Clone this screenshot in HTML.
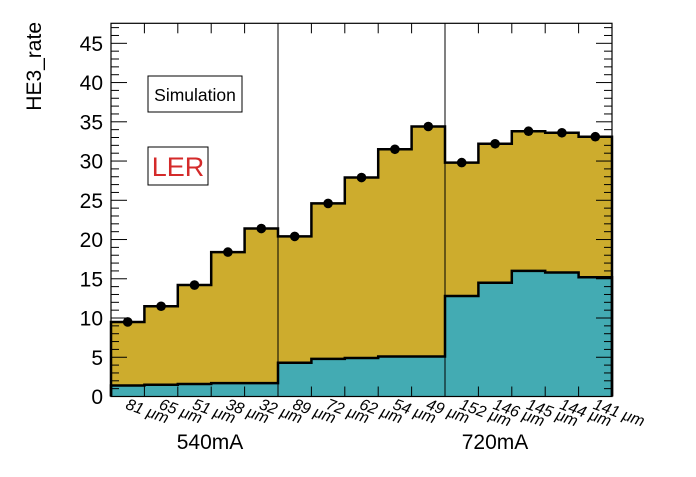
<!DOCTYPE html>
<html><head><meta charset="utf-8"><style>
body{margin:0;background:#fff}
svg text{font-family:"Liberation Sans",sans-serif}
</style></head><body>
<svg width="696" height="472" viewBox="0 0 696 472">
<g id="plot"></g>
</svg>
<script>
const categories=["81","65","51","38","32","89","72","62","54","49","152","146","145","144","141"];
const totalValues=[9.5,11.5,14.2,18.4,21.4,20.4,24.6,27.9,31.5,34.4,29.8,32.2,33.8,33.6,33.1];
const tealValues=[1.4,1.5,1.6,1.7,1.7,4.3,4.8,4.9,5.1,5.1,12.8,14.5,16.0,15.8,15.2];
const yTicks=[0,5,10,15,20,25,30,35,40,45];
const groupLabels=["540mA","720mA"];
const NS="http://www.w3.org/2000/svg";
const L=111,R=612,T=23.3,B=396.5,YMAX=47.55;
const n=categories.length,bw=(R-L)/n;
const X=i=>L+i*bw;
const Y=v=>B-(v/YMAX)*(B-T);
const g=document.getElementById('plot');
function mk(tag,attrs,parent){const e=document.createElementNS(NS,tag);for(const k in attrs)e.setAttribute(k,attrs[k]);(parent||g).appendChild(e);return e;}
function stepPath(vals){let d=`M${X(0)},${B}`;vals.forEach((v,i)=>{d+=` L${X(i)},${Y(v)} L${X(i+1)},${Y(v)}`;});d+=` L${X(n)},${B}`;return d;}
let e;
e=mk('path',{d:stepPath(totalValues)+' Z',fill:'#cdac2d',stroke:'none'});


e=mk('path',{d:stepPath(tealValues)+' Z',fill:'#43abb3',stroke:'none'});


e=mk('path',{d:stepPath(totalValues),fill:'none',stroke:'#000','stroke-width':2.5});


e=mk('path',{d:stepPath(tealValues),fill:'none',stroke:'#000','stroke-width':2.5});


[5,10].forEach(i=>{e=mk('line',{x1:X(i),x2:X(i),y1:T,y2:B,stroke:'#000','stroke-width':1});

});
totalValues.forEach((v,i)=>{e=mk('circle',{cx:X(i)+bw/2,cy:Y(v),r:4.8,fill:'#000'});

});
e=mk('rect',{x:L,y:T,width:R-L,height:B-T,fill:'none',stroke:'#000','stroke-width':1.2});


for(let v=0;v<=47;v++){const maj=v%5===0;const len=maj?16:8;const y=Y(v);
mk('line',{x1:L,x2:L+len,y1:y,y2:y,stroke:'#000','stroke-width':1});
mk('line',{x1:R,x2:R-len,y1:y,y2:y,stroke:'#000','stroke-width':1});}
yTicks.forEach(v=>{e=mk('text',{x:L-8,y:Y(v)+7.5,'text-anchor':'end','font-size':21});e.textContent=v;

});
for(let i=1;i<n;i++){mk('line',{x1:X(i),x2:X(i),y1:B,y2:B-10,stroke:'#000','stroke-width':1});mk('line',{x1:X(i),x2:X(i),y1:T,y2:T+10,stroke:'#000','stroke-width':1});}
categories.forEach((c,i)=>{const x=X(i)+bw/2-3,y=B+12;
e=mk('text',{x:x,y:y,'font-size':16,'font-style':'italic',transform:`rotate(20 ${x} ${y})`});
e.textContent=c+' \u03bcm';

});
groupLabels.forEach((t,k)=>{e=mk('text',{x:k?495:210,y:449,'text-anchor':'middle','font-size':21});e.textContent=t;

});
e=mk('text',{x:0,y:0,'text-anchor':'end','font-size':21,transform:'translate(41,22) rotate(-90)'});e.textContent='HE3_rate';


e=mk('rect',{x:148,y:76,width:94,height:36,fill:'#fff',stroke:'#000','stroke-width':1});


e=mk('text',{x:195,y:101,'text-anchor':'middle','font-size':17.5});e.textContent='Simulation';


e=mk('rect',{x:148,y:147,width:60,height:38,fill:'#fff',stroke:'#000','stroke-width':1});


e=mk('text',{x:178,y:176,'text-anchor':'middle','font-size':27,fill:'#d42a2a'});e.textContent='LER';


</script>
</body></html>
